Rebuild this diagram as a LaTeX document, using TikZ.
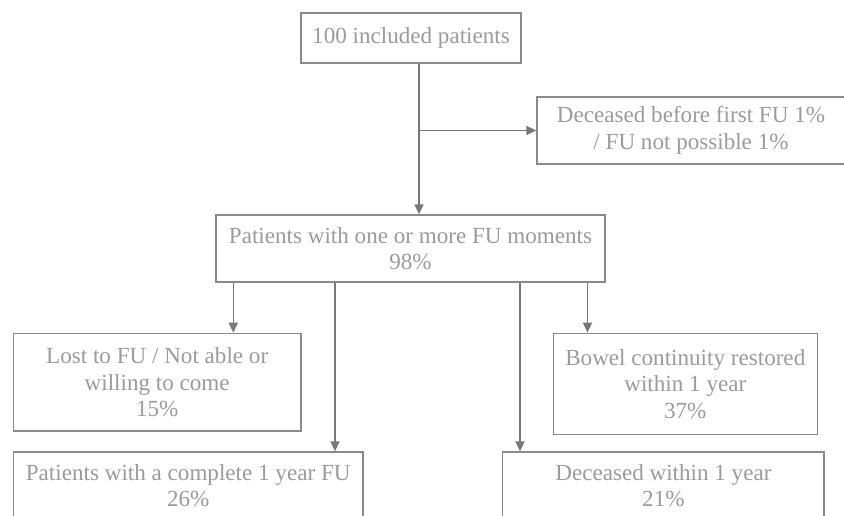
\documentclass[tikz,border=0pt]{standalone}
\usepackage{fontspec}
\setmainfont{Liberation Serif}
\usetikzlibrary{arrows.meta}
\definecolor{linegray}{RGB}{120,120,120}
\definecolor{boxgray}{RGB}{138,138,138}
\definecolor{textgray}{RGB}{155,155,155}
\begin{document}
\begin{tikzpicture}[x=1pt,y=-1pt,
  box/.style={draw=boxgray, line width=1.3pt, inner sep=0pt, align=center,
    text=textgray, font=\fontsize{23.1}{26.5}\selectfont},
  conn/.style={draw=linegray, line width=1.4pt,
    -{Triangle[width=9pt,length=10pt]}}]
\useasboundingbox (0,0) rectangle (844,515);
\clip (0,0) rectangle (844,515);
\fill[white] (0,0) rectangle (844,515);

\node[box, minimum width=220pt, minimum height=50pt] (b1) at (411,38) {100 included patients};
\node[box, minimum width=308pt, minimum height=67pt] (b2) at (691,130.5) {Deceased before first FU 1\%\\/ FU not possible 1\%};
\node[box, minimum width=389pt, minimum height=67pt] (b3) at (410.5,248.5) {Patients with one or more FU moments\\98\%};
\node[box, minimum width=287.7pt, minimum height=97.7pt] (b4) at (157.2,382.2) {Lost to FU / Not able or\\willing to come\\15\%};
\node[box, minimum width=264pt, minimum height=101pt] (b6) at (685.3,383.8) {Bowel continuity restored\\within 1 year\\37\%};
\node[box, minimum width=349.7pt, minimum height=67pt] (b5) at (188.2,485.5) {Patients with a complete 1 year FU\\26\%};
\node[box, minimum width=321.3pt, minimum height=67pt] (b7) at (663.4,485.5) {Deceased within 1 year\\21\%};

\coordinate (v0) at (419,0);
\coordinate (v1) at (233.3,0);
\coordinate (v2) at (335,0);
\coordinate (v3) at (520,0);
\coordinate (v4) at (587.5,0);

\draw[conn] (b1.south -| v0) -- (b3.north -| v0);
\draw[conn] (b2.west -| v0) -- (b2.west);
\draw[conn] (b3.south -| v1) -- (b4.north -| v1);
\draw[conn] (b3.south -| v2) -- (b5.north -| v2);
\draw[conn] (b3.south -| v3) -- (b7.north -| v3);
\draw[conn] (b3.south -| v4) -- (b6.north -| v4);
\end{tikzpicture}
\end{document}
